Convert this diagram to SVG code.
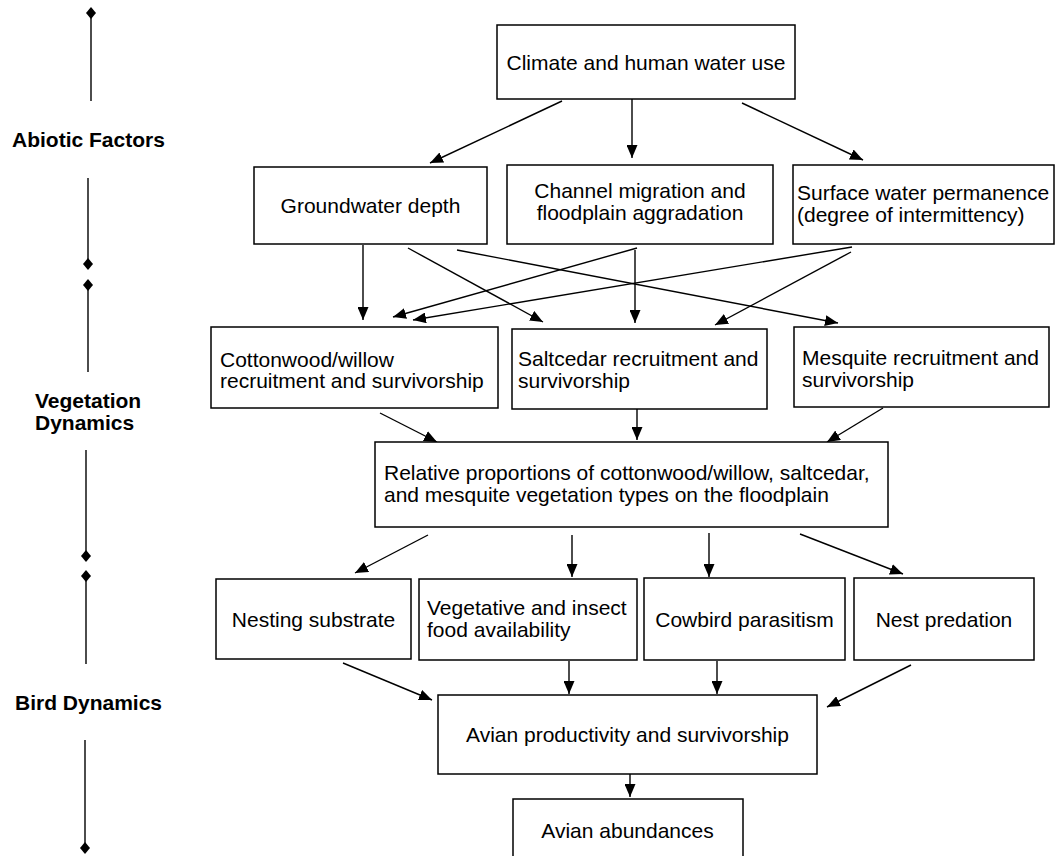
<svg xmlns="http://www.w3.org/2000/svg" width="1056" height="856" viewBox="0 0 1056 856">
<style>
  .box { fill: #fff; stroke: #000; stroke-width: 1.5; }
  .t { font-family: "Liberation Sans", Arial, sans-serif; font-size: 21px; fill: #000; }
  .c { text-anchor: middle; }
  .lbl { font-family: "Liberation Sans", Arial, sans-serif; font-size: 21px; font-weight: bold; fill: #000; }
  .edge { stroke: #000; stroke-width: 1.4; fill: none; marker-end: url(#arr); }
  .rule { stroke: #000; stroke-width: 1.4; fill: none; }
  .dia { fill: #000; }
</style>
<defs>
  <marker id="arr" markerUnits="userSpaceOnUse" markerWidth="13" markerHeight="11" refX="13" refY="5.5" orient="auto">
    <path d="M0,0 L13,5.5 L0,11 z" fill="#000"/>
  </marker>
</defs>
<rect width="1056" height="856" fill="#fff"/>

<g id="side-labels">
  <line class="rule" x1="91" y1="13" x2="91" y2="101"/>
  <path class="dia" d="M91,7 L96,13 L91,19 L86,13 z"/>
  <text class="lbl" x="12" y="147">Abiotic Factors</text>
  <line class="rule" x1="88" y1="178" x2="88" y2="264"/>
  <path class="dia" d="M88,258 L93,264 L88,270 L83,264 z"/>
  <line class="rule" x1="88" y1="285" x2="88" y2="372"/>
  <path class="dia" d="M88,279 L93,285 L88,291 L83,285 z"/>
  <text class="lbl" x="35" y="408">Vegetation</text>
  <text class="lbl" x="35" y="430">Dynamics</text>
  <line class="rule" x1="86" y1="450" x2="86" y2="556"/>
  <path class="dia" d="M86,550 L91,556 L86,562 L81,556 z"/>
  <line class="rule" x1="86" y1="576" x2="86" y2="664"/>
  <path class="dia" d="M86,570 L91,576 L86,582 L81,576 z"/>
  <text class="lbl" x="15" y="710">Bird Dynamics</text>
  <line class="rule" x1="85" y1="740" x2="85" y2="848"/>
  <path class="dia" d="M85,842 L90,848 L85,854 L80,848 z"/>
</g>

<g id="connectors">
  <line class="edge" x1="562" y1="101" x2="430" y2="163"/>
  <line class="edge" x1="632" y1="99" x2="632" y2="158"/>
  <line class="edge" x1="742" y1="103" x2="863" y2="160"/>
  <line class="edge" x1="363" y1="245" x2="363" y2="320"/>
  <line class="edge" x1="408" y1="248" x2="543" y2="322"/>
  <line class="edge" x1="457" y1="250" x2="838" y2="323"/>
  <line class="edge" x1="637" y1="248" x2="393" y2="317"/>
  <line class="edge" x1="635" y1="250" x2="635" y2="323"/>
  <line class="edge" x1="852" y1="247" x2="413" y2="320"/>
  <line class="edge" x1="851" y1="252" x2="715" y2="325"/>
  <line class="edge" x1="380" y1="413" x2="437" y2="442"/>
  <line class="edge" x1="637" y1="409" x2="637" y2="440"/>
  <line class="edge" x1="883" y1="408" x2="827" y2="442"/>
  <line class="edge" x1="428" y1="535" x2="355" y2="573"/>
  <line class="edge" x1="572" y1="535" x2="572" y2="577"/>
  <line class="edge" x1="709" y1="533" x2="709" y2="577"/>
  <line class="edge" x1="800" y1="534" x2="903" y2="574"/>
  <line class="edge" x1="343" y1="663" x2="432" y2="700"/>
  <line class="edge" x1="569" y1="661" x2="569" y2="694"/>
  <line class="edge" x1="717" y1="661" x2="717" y2="694"/>
  <line class="edge" x1="911" y1="665" x2="827" y2="707"/>
  <line class="edge" x1="630" y1="774" x2="630" y2="797"/>
</g>

<g id="climate">
  <rect class="box" x="497" y="25" width="298" height="74"/>
  <text class="t c" x="646" y="70">Climate and human water use</text>
</g>
<g id="groundwater">
  <rect class="box" x="254" y="167" width="233" height="77"/>
  <text class="t c" x="370.5" y="213">Groundwater depth</text>
</g>
<g id="channel">
  <rect class="box" x="507" y="165" width="266" height="79"/>
  <text class="t c" x="640" y="198">Channel migration and</text>
  <text class="t c" x="640" y="220">floodplain aggradation</text>
</g>
<g id="surface">
  <rect class="box" x="793" y="165" width="261" height="79"/>
  <text class="t" x="797" y="200">Surface water permanence</text>
  <text class="t" x="797" y="222">(degree of intermittency)</text>
</g>
<g id="cottonwood">
  <rect class="box" x="211" y="327" width="287" height="81"/>
  <text class="t" x="220" y="367">Cottonwood/willow</text>
  <text class="t" x="220" y="388">recruitment and survivorship</text>
</g>
<g id="saltcedar">
  <rect class="box" x="512" y="329" width="255" height="80"/>
  <text class="t" x="518" y="366">Saltcedar recruitment and</text>
  <text class="t" x="518" y="388">survivorship</text>
</g>
<g id="mesquite">
  <rect class="box" x="794" y="327" width="255" height="80"/>
  <text class="t" x="802" y="365">Mesquite recruitment and</text>
  <text class="t" x="802" y="387">survivorship</text>
</g>
<g id="relative">
  <rect class="box" x="375" y="442" width="513" height="85"/>
  <text class="t" x="384" y="480">Relative proportions of cottonwood/willow, saltcedar,</text>
  <text class="t" x="384" y="502">and mesquite vegetation types on the floodplain</text>
</g>
<g id="nesting">
  <rect class="box" x="216" y="579" width="195" height="80"/>
  <text class="t c" x="313.5" y="627">Nesting substrate</text>
</g>
<g id="vegetative">
  <rect class="box" x="419" y="579" width="218" height="81"/>
  <text class="t" x="427" y="615">Vegetative and insect</text>
  <text class="t" x="427" y="637">food availability</text>
</g>
<g id="cowbird">
  <rect class="box" x="644" y="578" width="201" height="82"/>
  <text class="t c" x="744.5" y="627">Cowbird parasitism</text>
</g>
<g id="predation">
  <rect class="box" x="854" y="578" width="180" height="82"/>
  <text class="t c" x="944" y="627">Nest predation</text>
</g>
<g id="productivity">
  <rect class="box" x="438" y="695" width="379" height="79"/>
  <text class="t c" x="627.5" y="742">Avian productivity and survivorship</text>
</g>
<g id="abundances">
  <rect class="box" x="513" y="799" width="230" height="80"/>
  <text class="t c" x="627.5" y="838">Avian abundances</text>
</g>
</svg>
